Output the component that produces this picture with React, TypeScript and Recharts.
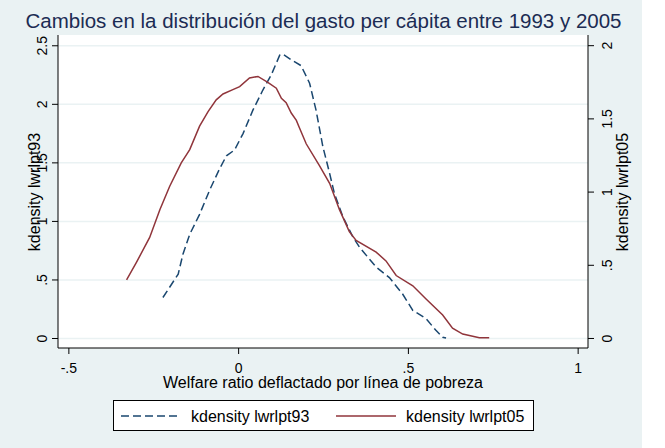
import { CartesianGrid, Line, LineChart, XAxis, YAxis } from "recharts";

// kdensity lwrlpt93 (left axis)
const x93 = [
    -0.223, -0.178, -0.164, -0.144, -0.115, -0.085, -0.056, -0.036, -0.012, 0.013, 0.042, 0.071, 0.096, 0.121, 0.13, 0.155, 0.184,
    0.209, 0.228, 0.248, 0.268, 0.282, 0.307, 0.336, 0.356, 0.405, 0.444, 0.483, 0.513, 0.552, 0.581, 0.601, 0.611,
];
const dens93 = [
    0.35, 0.55, 0.72, 0.89, 1.06, 1.27, 1.45, 1.56, 1.61, 1.75, 1.95, 2.12, 2.25, 2.42, 2.43, 2.38, 2.33, 2.18, 1.95, 1.64, 1.41,
    1.24, 1.04, 0.87, 0.78, 0.61, 0.52, 0.38, 0.24, 0.17, 0.07, 0.01, 0.005,
];

// kdensity lwrlpt05 (right axis)
const x05 = [
    -0.33, -0.301, -0.262, -0.232, -0.203, -0.169, -0.144, -0.115, -0.09, -0.066, -0.046, -0.017, 0.003, 0.032, 0.057, 0.086, 0.111,
    0.126, 0.14, 0.155, 0.17, 0.179, 0.199, 0.238, 0.268, 0.297, 0.326, 0.346, 0.405, 0.434, 0.464, 0.513, 0.552, 0.601, 0.63, 0.66,
    0.709, 0.738,
];
const dens05 = [
    0.4, 0.52, 0.69, 0.88, 1.04, 1.2, 1.29, 1.45, 1.55, 1.63, 1.67, 1.7, 1.72, 1.78, 1.79, 1.75, 1.71, 1.64, 1.61, 1.54, 1.49, 1.44,
    1.33, 1.18, 1.06, 0.88, 0.73, 0.67, 0.59, 0.53, 0.43, 0.36, 0.27, 0.16, 0.07, 0.03, 0.005, 0.005,
];

const xTicks = [-0.5, 0, 0.5, 1];
const leftTicks = [0, 0.5, 1, 1.5, 2, 2.5];
const rightTicks = [0, 0.5, 1, 1.5, 2];

const series93 = x93.map((x, i) => ({ x, y: dens93[i] }));
const series05 = x05.map((x, i) => ({ x, y: dens05[i] }));

const FONT = "'Liberation Sans', Arial, sans-serif";
const NAVY = "#1a476f";
const MAROON = "#90353b";
const BG = "#eaf2f3";

// stata style labels: .5 instead of 0.5
const fmt = (v: number) => (v === 0 ? "0" : String(v).replace(/^(-?)0\./, "$1."));

const LeftTick = ({ y, payload }: any) => (
    <text x={47} y={y} transform={`rotate(-90, 47, ${y})`} textAnchor="middle" fontSize={14} fontFamily={FONT} fill="#000">
        {fmt(payload.value)}
    </text>
);

const RightTick = ({ y, payload }: any) => (
    <text x={612} y={y} transform={`rotate(-90, 612, ${y})`} textAnchor="middle" fontSize={14} fontFamily={FONT} fill="#000">
        {fmt(payload.value)}
    </text>
);

const BottomTick = ({ x, payload }: any) => (
    <text x={x} y={373} textAnchor="middle" fontSize={14} fontFamily={FONT} fill="#000">
        {fmt(payload.value)}
    </text>
);

export default function App() {
    return (
        <div style={{ position: "fixed", left: 0, top: 0, width: 665, height: 448, background: "#fff" }}>
            <div style={{ position: "absolute", left: 0, top: 0, width: 642, height: 448, background: BG }} />
            <LineChart
                width={665}
                height={448}
                margin={{ top: 35, right: 0, bottom: 0, left: 0 }}
                style={{ position: "absolute", left: 0, top: 0 }}
            >
                <CartesianGrid yAxisId="left" vertical={false} horizontalValues={leftTicks} stroke={BG} strokeWidth={1.5} fill="#fff" />
                <XAxis
                    dataKey="x"
                    type="number"
                    domain={[-0.532, 1.029]}
                    ticks={xTicks}
                    allowDataOverflow
                    height={100}
                    tickSize={6}
                    stroke="#000"
                    tick={<BottomTick />}
                />
                <YAxis
                    yAxisId="left"
                    type="number"
                    domain={[-0.081, 2.592]}
                    ticks={leftTicks}
                    allowDataOverflow
                    width={58}
                    tickSize={6}
                    stroke="#000"
                    tick={<LeftTick />}
                />
                <YAxis
                    yAxisId="right"
                    orientation="right"
                    type="number"
                    domain={[-0.065, 2.073]}
                    ticks={rightTicks}
                    allowDataOverflow
                    width={77}
                    tickSize={6}
                    stroke="#000"
                    tick={<RightTick />}
                />
                <Line
                    yAxisId="left"
                    data={series93}
                    dataKey="y"
                    type="linear"
                    stroke={NAVY}
                    strokeWidth={1.5}
                    strokeDasharray="8 4"
                    dot={false}
                    isAnimationActive={false}
                />
                <Line
                    yAxisId="right"
                    data={series05}
                    dataKey="y"
                    type="linear"
                    stroke={MAROON}
                    strokeWidth={1.5}
                    dot={false}
                    isAnimationActive={false}
                />
                <text x={323.5} y={27.5} textAnchor="middle" fontSize={20.5} fontFamily={FONT} fill="#1c2c53">
                    Cambios en la distribución del gasto per cápita entre 1993 y 2005
                </text>
                <text x={323} y={388} textAnchor="middle" fontSize={16} fontFamily={FONT} fill="#000">
                    Welfare ratio deflactado por línea de pobreza
                </text>
                <text x={39.5} y={192} transform="rotate(-90, 39.5, 192)" textAnchor="middle" fontSize={16} fontFamily={FONT} fill="#000">
                    kdensity lwrlpt93
                </text>
                <text x={628} y={192} transform="rotate(-90, 628, 192)" textAnchor="middle" fontSize={16} fontFamily={FONT} fill="#000">
                    kdensity lwrlpt05
                </text>
            </LineChart>
            <div
                style={{
                    position: "absolute",
                    left: 113,
                    top: 400,
                    width: 419,
                    height: 29,
                    border: "1px solid #000",
                    background: "#fff",
                    fontFamily: FONT,
                    fontSize: 16,
                }}
            >
                <svg width={419} height={29} style={{ position: "absolute", left: 0, top: 0 }}>
                    <line x1={7} x2={67} y1={15} y2={15} stroke={NAVY} strokeWidth={1.5} strokeDasharray="8 4" />
                    <text x={77} y={20.5} fontSize={16} fontFamily={FONT} fill="#000">
                        kdensity lwrlpt93
                    </text>
                    <line x1={222} x2={282} y1={15} y2={15} stroke={MAROON} strokeWidth={1.5} />
                    <text x={292} y={20.5} fontSize={16} fontFamily={FONT} fill="#000">
                        kdensity lwrlpt05
                    </text>
                </svg>
            </div>
        </div>
    );
}
